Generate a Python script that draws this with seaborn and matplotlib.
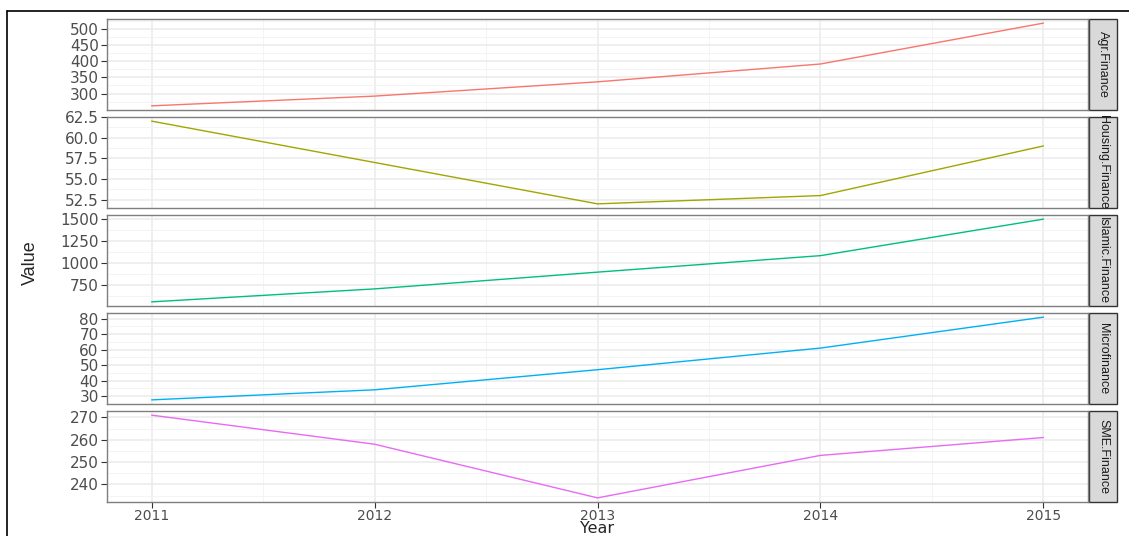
import numpy as np
import pandas as pd
import matplotlib
matplotlib.use("Agg")
import matplotlib.pyplot as plt
from matplotlib.lines import Line2D
from matplotlib.patches import Rectangle
from matplotlib.ticker import AutoMinorLocator, FixedLocator
import seaborn as sns

# Data
years = [2011, 2012, 2013, 2014, 2015]
agr_finance = [262, 292, 336, 391, 517]
housing_finance = [62.0, 57.0, 52.0, 53.0, 59.0]
islamic_finance = [562, 709, 899, 1086, 1500]
microfinance = [27.5, 34, 47, 61, 81]
sme_finance = [271, 258, 234, 253, 261]

series_names = ["Agr.Finance", "Housing.Finance", "Islamic.Finance", "Microfinance", "SME.Finance"]
colors = ["#F8766D", "#A3A500", "#00BF7D", "#00B0F6", "#E76BF3"]
y_ticks = [
    [300, 350, 400, 450, 500],
    [52.5, 55.0, 57.5, 60.0, 62.5],
    [750, 1000, 1250, 1500],
    [30, 40, 50, 60, 70, 80],
    [240, 250, 260, 270],
]

df = pd.DataFrame({
    "Year": years * 5,
    "Value": agr_finance + housing_finance + islamic_finance + microfinance + sme_finance,
    "Series": np.repeat(series_names, len(years)),
})

sns.set_style("white")
plt.rcParams["font.family"] = ["DejaVu Sans"]
narrow = ["Liberation Sans", "DejaVu Sans"]

fig, axes = plt.subplots(5, 1, figsize=(11.29, 5.36), dpi=100, sharex=True)
fig.subplots_adjust(left=0.0948, right=0.9637, top=0.9646, bottom=0.0634, hspace=0.077)

for i, (ax, name) in enumerate(zip(axes, series_names)):
    sub = df[df["Series"] == name]
    sns.lineplot(data=sub, x="Year", y="Value", color=colors[i], lw=1.0, ax=ax)
    lo, hi = sub["Value"].min(), sub["Value"].max()
    pad = (hi - lo) * 0.05
    ax.set_ylim(lo - pad, hi + pad)
    ax.set_xlim(2010.8, 2015.2)
    ax.yaxis.set_major_locator(FixedLocator(y_ticks[i]))
    if name == "Housing.Finance":
        ax.set_yticklabels([f"{t:.1f}" for t in y_ticks[i]])
    ax.yaxis.set_minor_locator(AutoMinorLocator(2))
    ax.xaxis.set_major_locator(FixedLocator(years))
    ax.xaxis.set_minor_locator(FixedLocator([2011.5, 2012.5, 2013.5, 2014.5]))
    ax.grid(which="major", color="#EBEBEB", lw=1.1)
    ax.grid(which="minor", color="#F2F2F2", lw=0.6)
    ax.set_axisbelow(True)
    for sp in ax.spines.values():
        sp.set_color("#7F7F7F")
        sp.set_linewidth(1.0)
    ax.tick_params(axis="y", which="major", length=4, width=0.8, color="#333333",
                   labelsize=11, labelcolor="#4D4D4D", left=True, pad=2)
    last = i == len(series_names) - 1
    ax.tick_params(axis="x", which="major", length=4 if last else 0, width=0.8, color="#333333",
                   labelsize=10, labelcolor="#4D4D4D", bottom=last, pad=1)
    ax.tick_params(which="minor", length=0)
    ax.set_xlabel("")
    ax.set_ylabel("")
    # facet strip on the right
    sw = 28 / (0.9637 - 0.0948) / 1129
    ax.add_patch(Rectangle((1.001, 0), sw, 1, transform=ax.transAxes, clip_on=False,
                           facecolor="#D9D9D9", edgecolor="#333333", lw=1.0))
    ax.text(1.001 + sw / 2, 0.5, name, transform=ax.transAxes, rotation=-90,
            ha="center", va="center", fontsize=9, color="#1A1A1A", family=narrow)

axes[-1].set_xticklabels([str(y) for y in years])
fig.text(0.529, 0.0, "Year", ha="center", va="bottom", fontsize=11.5)
fig.text(0.027, 0.51, "Value", rotation=90, ha="center", va="center", fontsize=13, family=narrow)

# outer frame lines
fig.add_artist(Line2D([0.0062, 1.0], [0.9795, 0.9795], color="black", lw=1.2))
fig.add_artist(Line2D([0.0062, 0.0062], [0.0, 0.9795], color="black", lw=1.2))

fig.savefig("out.png", dpi=100)
